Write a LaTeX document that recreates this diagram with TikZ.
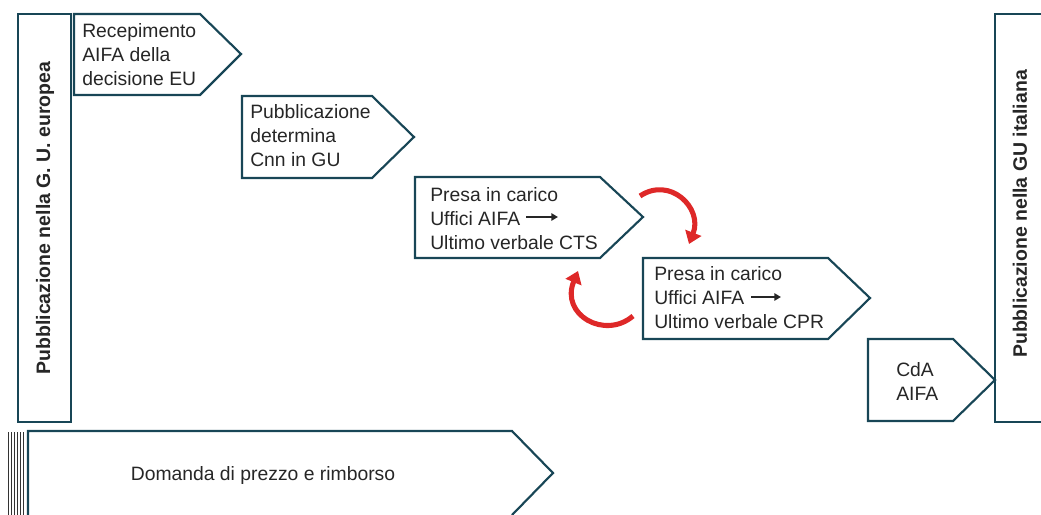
\documentclass[tikz,border=0pt]{standalone}
\usepackage{fontspec}
\setmainfont{Liberation Sans}
\usetikzlibrary{arrows.meta}
\definecolor{colbordo}{RGB}{24,70,86}
\definecolor{coltesto}{RGB}{38,38,38}
\definecolor{colrosso}{RGB}{222,40,40}

\begin{document}
\begin{tikzpicture}[x=0.75pt,y=-0.75pt,
  bordo/.style={draw=colbordo,line width=1.6pt,line join=miter},
  testo/.style={text=coltesto,anchor=north west,inner sep=0pt,align=left,font=\fontsize{14.5}{18}\selectfont},
  verticale/.style={text=coltesto,rotate=90,inner sep=0pt,font=\bfseries\fontsize{14.6}{18}\selectfont},
  freccia/.style={draw=colrosso,line width=3.8pt,-{Triangle[length=9pt,width=12.5pt]}},
  frecciana/.style={draw=coltesto,line width=1.6pt,-{Triangle[length=5pt,width=5.5pt]}}]
  \useasboundingbox (0,0) rectangle (1041,514);

  % colonne laterali
  \draw[bordo] (18,14) rectangle (71,422);
  \node[verticale] (gue) at (45,218) {Pubblicazione nella G. U. europea};
  \draw[bordo] (1046,14) -- (995,14) -- (995,422) -- (1046,422);
  \node[verticale] (gui) at (1020,214) {Pubblicazione nella GU italiana};

  % fasi
  \draw[bordo] (74,14) -- (200,14) -- (241,54) -- (200,95) -- (74,95) -- cycle;
  \node[testo] (recepimento) at (82,23) {Recepimento\\AIFA della\\decisione EU};
  \draw[bordo] (242,96) -- (372,96) -- (414,137) -- (372,178) -- (242,178) -- cycle;
  \node[testo] (determina) at (250,104) {Pubblicazione\\determina\\Cnn in GU};
  \draw[bordo] (415,177) -- (600,177) -- (643,217) -- (600,258) -- (415,258) -- cycle;
  \node[testo] (cts) at (430,187) {Presa in carico\\Uffici AIFA\\Ultimo verbale CTS};
  \draw[bordo] (643,258) -- (828,258) -- (870,298) -- (828,339) -- (643,339) -- cycle;
  \node[testo] (cpr) at (654,266) {Presa in carico\\Uffici AIFA\\Ultimo verbale CPR};
  \draw[bordo] (868,339) -- (953,339) -- (995,380) -- (953,421) -- (868,421) -- cycle;
  \node[testo] (cda) at (896,362) {CdA\\AIFA};

  % frecce nere nel testo
  \coordinate (n1) at (526,217);
  \coordinate (n2) at (558,217);
  \coordinate (n3) at (751,297);
  \coordinate (n4) at (781,297);
  \draw[frecciana] (n1) -- (n2);
  \draw[frecciana] (n3) -- (n4);

  % frecce rosse
  \coordinate (c1) at (640,196);
  \coordinate (c2) at (689,244);
  \coordinate (c3) at (633,316);
  \coordinate (c4) at (578,271);
  \draw[freccia] (c1) .. controls (670,176) and (703,208) .. (c2);
  \draw[freccia] (c3) .. controls (605,340) and (560,315) .. (c4);

  % domanda
  \foreach \x in {8.5,11.5,...,25} \draw[black!80,line width=1.1pt] (\x,432) -- (\x,516);
  \draw[bordo] (28,516) -- (28,431) -- (512,431) -- (553,473) -- (512,515);
  \node[testo,anchor=center] (domanda) at (263,475) {Domanda di prezzo e rimborso};
\end{tikzpicture}
\end{document}
